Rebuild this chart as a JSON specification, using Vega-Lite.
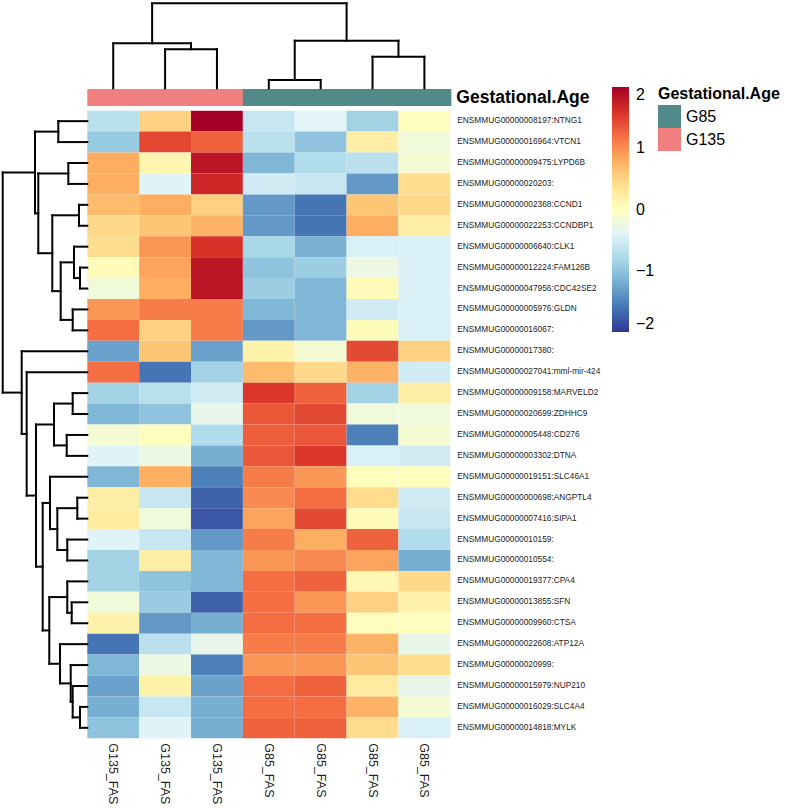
{
  "$schema": "https://vega.github.io/schema/vega-lite/v6.json",
  "width": 786,
  "height": 809,
  "autosize": "none",
  "padding": 0,
  "background": "white",
  "config": {"view": {"stroke": null}, "font": "Liberation Sans"},
  "datasets": {
    "genes": [
      {"r": 0, "gene": "ENSMMUG00000008197:NTNG1", "c0": -0.7, "c1": 0.53, "c2": 2.0, "c3": -0.6, "c4": -0.38, "c5": -0.86, "c6": 0.02},
      {"r": 1, "gene": "ENSMMUG00000016964:VTCN1", "c0": -0.94, "c1": 1.45, "c2": 1.27, "c3": -0.69, "c4": -1.0, "c5": 0.23, "c6": -0.19},
      {"r": 2, "gene": "ENSMMUG00000009475:LYPD6B", "c0": 0.8, "c1": 0.13, "c2": 1.82, "c3": -1.11, "c4": -0.76, "c5": -0.69, "c6": -0.14},
      {"r": 3, "gene": "ENSMMUG00000020203:", "c0": 0.8, "c1": -0.4, "c2": 1.68, "c3": -0.52, "c4": -0.6, "c5": -1.34, "c6": 0.42},
      {"r": 4, "gene": "ENSMMUG00000002368:CCND1", "c0": 0.7, "c1": 0.8, "c2": 0.53, "c3": -1.34, "c4": -1.6, "c5": 0.61, "c6": 0.46},
      {"r": 5, "gene": "ENSMMUG00000022253:CCNDBP1", "c0": 0.46, "c1": 0.61, "c2": 0.76, "c3": -1.34, "c4": -1.6, "c5": 0.8, "c6": 0.23},
      {"r": 6, "gene": "ENSMMUG00000006640:CLK1", "c0": 0.42, "c1": 0.95, "c2": 1.6, "c3": -0.82, "c4": -1.16, "c5": -0.45, "c6": -0.45},
      {"r": 7, "gene": "ENSMMUG00000012224:FAM126B", "c0": 0.04, "c1": 0.86, "c2": 1.82, "c3": -1.0, "c4": -0.91, "c5": -0.25, "c6": -0.45},
      {"r": 8, "gene": "ENSMMUG00000047956:CDC42SE2", "c0": -0.19, "c1": 0.8, "c2": 1.82, "c3": -0.91, "c4": -1.11, "c5": 0.04, "c6": -0.45},
      {"r": 9, "gene": "ENSMMUG00000005976:GLDN", "c0": 0.95, "c1": 1.11, "c2": 1.11, "c3": -1.11, "c4": -1.11, "c5": -0.52, "c6": -0.45},
      {"r": 10, "gene": "ENSMMUG00000016067:", "c0": 1.2, "c1": 0.53, "c2": 1.11, "c3": -1.34, "c4": -1.11, "c5": 0.04, "c6": -0.45},
      {"r": 11, "gene": "ENSMMUG00000017380:", "c0": -1.28, "c1": 0.61, "c2": -1.28, "c3": 0.16, "c4": -0.14, "c5": 1.43, "c6": 0.53},
      {"r": 12, "gene": "ENSMMUG00000027041:mml-mir-424", "c0": 1.2, "c1": -1.6, "c2": -0.86, "c3": 0.7, "c4": 0.46, "c5": 0.76, "c6": -0.52},
      {"r": 13, "gene": "ENSMMUG00000009158:MARVELD2", "c0": -0.86, "c1": -0.69, "c2": -0.52, "c3": 1.55, "c4": 1.27, "c5": -0.86, "c6": 0.23},
      {"r": 14, "gene": "ENSMMUG00000020699:ZDHHC9", "c0": -1.11, "c1": -1.0, "c2": -0.3, "c3": 1.34, "c4": 1.43, "c5": -0.19, "c6": -0.19},
      {"r": 15, "gene": "ENSMMUG00000005448:CD276", "c0": -0.14, "c1": 0.02, "c2": -0.76, "c3": 1.3, "c4": 1.34, "c5": -1.53, "c6": -0.14},
      {"r": 16, "gene": "ENSMMUG00000003302:DTNA", "c0": -0.4, "c1": -0.25, "c2": -1.18, "c3": 1.34, "c4": 1.55, "c5": -0.45, "c6": -0.52},
      {"r": 17, "gene": "ENSMMUG00000019151:SLC46A1", "c0": -1.11, "c1": 0.8, "c2": -1.53, "c3": 1.11, "c4": 0.95, "c5": 0.02, "c6": 0.02},
      {"r": 18, "gene": "ENSMMUG00000000698:ANGPTL4", "c0": 0.23, "c1": -0.6, "c2": -1.72, "c3": 1.03, "c4": 1.2, "c5": 0.42, "c6": -0.52},
      {"r": 19, "gene": "ENSMMUG00000007416:SIPA1", "c0": 0.26, "c1": -0.19, "c2": -1.8, "c3": 0.86, "c4": 1.43, "c5": 0.04, "c6": -0.6},
      {"r": 20, "gene": "ENSMMUG00000010159:", "c0": -0.4, "c1": -0.6, "c2": -1.34, "c3": 1.11, "c4": 0.8, "c5": 1.27, "c6": -0.76},
      {"r": 21, "gene": "ENSMMUG00000010554:", "c0": -0.86, "c1": 0.23, "c2": -1.11, "c3": 0.95, "c4": 1.03, "c5": 0.86, "c6": -1.18},
      {"r": 22, "gene": "ENSMMUG00000019377:CPA4", "c0": -0.86, "c1": -1.0, "c2": -1.11, "c3": 1.2, "c4": 1.27, "c5": 0.1, "c6": 0.46},
      {"r": 23, "gene": "ENSMMUG00000013855:SFN", "c0": -0.19, "c1": -0.94, "c2": -1.72, "c3": 1.2, "c4": 0.95, "c5": 0.53, "c6": 0.16},
      {"r": 24, "gene": "ENSMMUG00000009960:CTSA", "c0": 0.16, "c1": -1.34, "c2": -1.18, "c3": 1.2, "c4": 1.2, "c5": 0.02, "c6": 0.02},
      {"r": 25, "gene": "ENSMMUG00000022608:ATP12A", "c0": -1.6, "c1": -0.69, "c2": -0.3, "c3": 1.11, "c4": 1.11, "c5": 0.76, "c6": -0.3},
      {"r": 26, "gene": "ENSMMUG00000020999:", "c0": -1.11, "c1": -0.25, "c2": -1.53, "c3": 0.95, "c4": 0.95, "c5": 0.61, "c6": 0.42},
      {"r": 27, "gene": "ENSMMUG00000015979:NUP210", "c0": -1.28, "c1": 0.16, "c2": -1.28, "c3": 1.2, "c4": 1.27, "c5": 0.26, "c6": -0.3},
      {"r": 28, "gene": "ENSMMUG00000016029:SLC4A4", "c0": -1.18, "c1": -0.6, "c2": -1.18, "c3": 1.2, "c4": 1.2, "c5": 0.76, "c6": -0.14},
      {"r": 29, "gene": "ENSMMUG00000014818:MYLK", "c0": -1.0, "c1": -0.4, "c2": -1.18, "c3": 1.27, "c4": 1.27, "c5": 0.42, "c6": -0.45}
    ],
    "samples": [
      {"col": "c0", "i": 0, "sample": "G135_FAS", "group": "G135"},
      {"col": "c1", "i": 1, "sample": "G135_FAS", "group": "G135"},
      {"col": "c2", "i": 2, "sample": "G135_FAS", "group": "G135"},
      {"col": "c3", "i": 3, "sample": "G85_FAS", "group": "G85"},
      {"col": "c4", "i": 4, "sample": "G85_FAS", "group": "G85"},
      {"col": "c5", "i": 5, "sample": "G85_FAS", "group": "G85"},
      {"col": "c6", "i": 6, "sample": "G85_FAS", "group": "G85"}
    ],
    "rowtree": [
      {"h": -0.559, "p1": 0.5, "h1": 0, "p2": 1.5, "h2": 0},
      {"h": -0.366, "p1": 2.5, "h1": 0, "p2": 3.5, "h2": 0},
      {"h": -0.160, "p1": 4.5, "h1": 0, "p2": 5.5, "h2": 0},
      {"h": -0.141, "p1": 7.5, "h1": 0, "p2": 8.5, "h2": 0},
      {"h": -0.256, "p1": 6.5, "h1": 0, "p2": 8.0, "h2": -0.141},
      {"h": -0.282, "p1": 9.5, "h1": 0, "p2": 10.5, "h2": 0},
      {"h": -0.513, "p1": 7.25, "h1": -0.256, "p2": 10.0, "h2": -0.282},
      {"h": -0.675, "p1": 5.0, "h1": -0.160, "p2": 8.625, "h2": -0.513},
      {"h": -0.945, "p1": 3.0, "h1": -0.366, "p2": 6.8125, "h2": -0.675},
      {"h": -1.008, "p1": 1.0, "h1": -0.559, "p2": 4.90625, "h2": -0.945},
      {"h": -0.282, "p1": 13.5, "h1": 0, "p2": 14.5, "h2": 0},
      {"h": -0.397, "p1": 15.5, "h1": 0, "p2": 16.5, "h2": 0},
      {"h": -0.642, "p1": 14.0, "h1": -0.282, "p2": 16.0, "h2": -0.397},
      {"h": -0.193, "p1": 18.5, "h1": 0, "p2": 19.5, "h2": 0},
      {"h": -0.386, "p1": 20.5, "h1": 0, "p2": 21.5, "h2": 0},
      {"h": -0.578, "p1": 19.0, "h1": -0.193, "p2": 21.0, "h2": -0.386},
      {"h": -0.719, "p1": 17.5, "h1": 0, "p2": 20.0, "h2": -0.578},
      {"h": -0.301, "p1": 23.5, "h1": 0, "p2": 24.5, "h2": 0},
      {"h": -0.386, "p1": 22.5, "h1": 0, "p2": 24.0, "h2": -0.301},
      {"h": -0.141, "p1": 28.5, "h1": 0, "p2": 29.5, "h2": 0},
      {"h": -0.282, "p1": 27.5, "h1": 0, "p2": 29.0, "h2": -0.141},
      {"h": -0.320, "p1": 26.5, "h1": 0, "p2": 28.25, "h2": -0.282},
      {"h": -0.526, "p1": 25.5, "h1": 0, "p2": 27.375, "h2": -0.320},
      {"h": -0.733, "p1": 23.25, "h1": -0.386, "p2": 26.4375, "h2": -0.526},
      {"h": -0.860, "p1": 18.75, "h1": -0.719, "p2": 24.84375, "h2": -0.733},
      {"h": -0.989, "p1": 15.0, "h1": -0.642, "p2": 21.797, "h2": -0.860},
      {"h": -1.169, "p1": 12.5, "h1": 0, "p2": 18.398, "h2": -0.989},
      {"h": -1.265, "p1": 11.5, "h1": 0, "p2": 15.449, "h2": -1.169},
      {"h": -1.631, "p1": 2.953, "h1": -1.008, "p2": 13.475, "h2": -1.265}
    ],
    "coltree": [
      {"h": -2.935, "p1": 1.5, "h1": -1.07, "p2": 2.5, "h2": -1.07},
      {"h": -3.222, "p1": 0.5, "h1": -1.07, "p2": 2.0, "h2": -2.935},
      {"h": -1.468, "p1": 3.5, "h1": -1.07, "p2": 4.5, "h2": -1.07},
      {"h": -2.581, "p1": 5.5, "h1": -1.07, "p2": 6.5, "h2": -1.07},
      {"h": -3.346, "p1": 4.0, "h1": -1.468, "p2": 6.0, "h2": -2.581},
      {"h": -5.134, "p1": 1.25, "h1": -3.222, "p2": 5.0, "h2": -3.346}
    ]
  },
  "resolve": {"scale": {"color": "independent"}, "legend": {"color": "independent"}},
  "layer": [
    {
      "data": {"name": "genes"},
      "transform": [
        {"fold": ["c0", "c1", "c2", "c3", "c4", "c5", "c6"], "as": ["col", "value"]},
        {"lookup": "col", "from": {"data": {"name": "samples"}, "key": "col", "fields": ["i"]}},
        {"calculate": "datum.i + 1", "as": "i1"},
        {"calculate": "datum.r + 1", "as": "r1"}
      ],
      "mark": {"type": "rect"},
      "encoding": {
        "x": {"field": "i", "type": "quantitative", "scale": {"domain": [-1.6834, 13.473], "nice": false, "zero": false}, "axis": null},
        "x2": {"field": "i1"},
        "y": {"field": "r", "type": "quantitative", "scale": {"domain": [-5.2916, 33.38], "nice": false, "zero": false, "reverse": true}, "axis": null},
        "y2": {"field": "r1"},
        "color": {
          "field": "value", "type": "quantitative",
          "scale": {"type": "linear", "domain": [-2, -1.6, -1.2, -0.8, -0.4, 0, 0.4, 0.8, 1.2, 1.6, 2],
                    "range": ["#313695", "#4575b4", "#74add1", "#abd9e9", "#e0f3f8", "#ffffbf", "#fee090", "#fdae61", "#f46d43", "#d73027", "#a50026"],
                    "interpolate": "rgb", "clamp": true},
          "legend": {"orient": "none", "legendX": 612, "legendY": 87, "direction": "vertical", "title": null,
                     "gradientLength": 245, "gradientThickness": 17, "gradientStrokeWidth": 0,
                     "values": [-2, -1, 0, 1, 2], "format": "d", "labelFontSize": 16, "labelOffset": 7,
                     "labelColor": "black", "padding": 0}
        }
      }
    },
    {
      "data": {"name": "samples"},
      "transform": [{"calculate": "datum.i + 1.02", "as": "i1"}],
      "mark": {"type": "rect"},
      "encoding": {
        "x": {"field": "i", "type": "quantitative", "scale": {"domain": [-1.6834, 13.473], "nice": false, "zero": false}, "axis": null},
        "x2": {"field": "i1"},
        "y": {"datum": -1.033, "type": "quantitative", "scale": {"domain": [-5.2916, 33.38], "nice": false, "zero": false, "reverse": true}, "axis": null},
        "y2": {"datum": -0.22},
        "color": {
          "field": "group", "type": "nominal",
          "scale": {"domain": ["G85", "G135"], "range": ["#518A89", "#F08080"]},
          "legend": {"orient": "none", "legendX": 658, "legendY": 86, "title": "Gestational.Age",
                     "titleFontSize": 16, "titleFontWeight": "bold", "titleColor": "black", "titlePadding": 3,
                     "symbolType": "square", "symbolSize": 529, "symbolStrokeWidth": 0, "symbolOpacity": 1,
                     "labelFontSize": 16, "labelColor": "black", "labelOffset": 5, "rowPadding": 0, "padding": 0}
        }
      }
    },
    {
      "data": {"name": "rowtree"},
      "mark": {"type": "rule", "color": "black", "strokeWidth": 2, "strokeCap": "square"},
      "encoding": {
        "x": {"field": "h", "type": "quantitative", "scale": {"domain": [-1.6834, 13.473], "nice": false, "zero": false}, "axis": null},
        "y": {"field": "p1", "type": "quantitative", "scale": {"domain": [-5.2916, 33.38], "nice": false, "zero": false, "reverse": true}, "axis": null},
        "y2": {"field": "p2"}
      }
    },
    {
      "data": {"name": "rowtree"},
      "mark": {"type": "rule", "color": "black", "strokeWidth": 2, "strokeCap": "square"},
      "encoding": {
        "x": {"field": "h", "type": "quantitative", "scale": {"domain": [-1.6834, 13.473], "nice": false, "zero": false}, "axis": null},
        "x2": {"field": "h1"},
        "y": {"field": "p1", "type": "quantitative", "scale": {"domain": [-5.2916, 33.38], "nice": false, "zero": false, "reverse": true}, "axis": null}
      }
    },
    {
      "data": {"name": "rowtree"},
      "mark": {"type": "rule", "color": "black", "strokeWidth": 2, "strokeCap": "square"},
      "encoding": {
        "x": {"field": "h", "type": "quantitative", "scale": {"domain": [-1.6834, 13.473], "nice": false, "zero": false}, "axis": null},
        "x2": {"field": "h2"},
        "y": {"field": "p2", "type": "quantitative", "scale": {"domain": [-5.2916, 33.38], "nice": false, "zero": false, "reverse": true}, "axis": null}
      }
    },
    {
      "data": {"name": "coltree"},
      "mark": {"type": "rule", "color": "black", "strokeWidth": 2, "strokeCap": "square"},
      "encoding": {
        "x": {"field": "p1", "type": "quantitative", "scale": {"domain": [-1.6834, 13.473], "nice": false, "zero": false}, "axis": null},
        "x2": {"field": "p2"},
        "y": {"field": "h", "type": "quantitative", "scale": {"domain": [-5.2916, 33.38], "nice": false, "zero": false, "reverse": true}, "axis": null}
      }
    },
    {
      "data": {"name": "coltree"},
      "mark": {"type": "rule", "color": "black", "strokeWidth": 2, "strokeCap": "square"},
      "encoding": {
        "x": {"field": "p1", "type": "quantitative", "scale": {"domain": [-1.6834, 13.473], "nice": false, "zero": false}, "axis": null},
        "y": {"field": "h", "type": "quantitative", "scale": {"domain": [-5.2916, 33.38], "nice": false, "zero": false, "reverse": true}, "axis": null},
        "y2": {"field": "h1"}
      }
    },
    {
      "data": {"name": "coltree"},
      "mark": {"type": "rule", "color": "black", "strokeWidth": 2, "strokeCap": "square"},
      "encoding": {
        "x": {"field": "p2", "type": "quantitative", "scale": {"domain": [-1.6834, 13.473], "nice": false, "zero": false}, "axis": null},
        "y": {"field": "h", "type": "quantitative", "scale": {"domain": [-5.2916, 33.38], "nice": false, "zero": false, "reverse": true}, "axis": null},
        "y2": {"field": "h2"}
      }
    },
    {
      "data": {"name": "genes"},
      "transform": [{"calculate": "datum.r + 0.5", "as": "rm"}],
      "mark": {"type": "text", "align": "left", "baseline": "middle", "dx": 7, "fontSize": 8.3, "color": "#222", "font": "Liberation Sans"},
      "encoding": {
        "x": {"datum": 7, "type": "quantitative", "scale": {"domain": [-1.6834, 13.473], "nice": false, "zero": false}, "axis": null},
        "y": {"field": "rm", "type": "quantitative", "scale": {"domain": [-5.2916, 33.38], "nice": false, "zero": false, "reverse": true}, "axis": null},
        "text": {"field": "gene"}
      }
    },
    {
      "data": {"name": "samples"},
      "transform": [{"calculate": "datum.i + 0.5", "as": "im"}],
      "mark": {"type": "text", "align": "left", "baseline": "middle", "angle": 90, "dx": 5, "fontSize": 12.5, "color": "#222", "font": "Liberation Sans"},
      "encoding": {
        "x": {"field": "im", "type": "quantitative", "scale": {"domain": [-1.6834, 13.473], "nice": false, "zero": false}, "axis": null},
        "y": {"datum": 30, "type": "quantitative", "scale": {"domain": [-5.2916, 33.38], "nice": false, "zero": false, "reverse": true}, "axis": null},
        "text": {"field": "sample"}
      }
    },
    {
      "data": {"values": [{"label": "Gestational.Age"}]},
      "mark": {"type": "text", "align": "left", "baseline": "middle", "dx": 6, "fontSize": 17.5, "fontWeight": "bold", "color": "black", "font": "Liberation Sans"},
      "encoding": {
        "x": {"datum": 7, "type": "quantitative", "scale": {"domain": [-1.6834, 13.473], "nice": false, "zero": false}, "axis": null},
        "y": {"datum": -0.627, "type": "quantitative", "scale": {"domain": [-5.2916, 33.38], "nice": false, "zero": false, "reverse": true}, "axis": null},
        "text": {"field": "label"}
      }
    }
  ]
}
